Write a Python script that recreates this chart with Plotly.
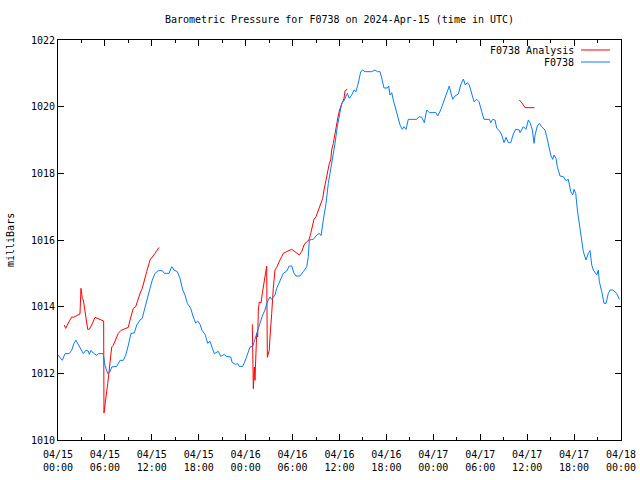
import plotly.graph_objects as go
from datetime import datetime, timedelta

START = datetime(2024, 4, 15)
X_TICK_HOURS = [0, 6, 12, 18, 24, 30, 36, 42, 48, 54, 60, 66, 72]
Y_TICKS = [1010, 1012, 1014, 1016, 1018, 1020, 1022]

# F0738 observed pressure (hours after 2024-04-15 00:00 UTC, mbar)
blue_hours = [0.0, 0.55, 0.90, 1.41, 1.75, 2.05, 2.30, 2.69, 3.03, 3.24, 3.54, 3.88, 4.00, 4.22, 4.51,
              4.95, 5.15, 5.79, 6.01, 6.36, 6.65, 6.87, 7.51, 7.93, 8.35, 8.66, 8.99, 9.34, 9.76, 10.07,
              10.49, 10.78, 11.04, 11.34, 11.77, 12.06, 12.41, 12.83, 13.34, 13.60, 14.20, 14.54, 14.84,
              15.26, 15.60, 15.95, 16.24, 16.54, 16.97, 17.30, 17.61, 17.87, 18.16, 18.42, 18.80, 19.15,
              19.44, 19.70, 19.99, 20.50, 20.81, 21.27, 21.49, 22.09, 22.26, 22.68, 22.98, 23.19, 23.62,
              23.92, 24.26, 24.56, 24.90, 25.19, 25.49, 25.83, 26.18, 26.47, 26.77, 27.11, 27.33, 27.75,
              27.97, 28.39, 28.81, 29.25, 29.58, 29.89, 30.18, 30.44, 30.95, 31.37, 31.81, 32.01, 32.14,
              32.65, 33.09, 33.42, 33.64, 33.93, 34.28, 34.57, 34.88, 35.13, 35.43, 35.72, 35.98, 36.28,
              36.58, 36.83, 37.00, 37.26, 37.56, 37.86, 38.11, 38.41, 38.71, 38.97, 39.26, 40.12, 40.54,
              40.84, 41.18, 41.40, 41.69, 42.12, 42.29, 42.46, 42.68, 42.88, 43.19, 43.45, 43.74, 44.03,
              44.25, 44.51, 44.80, 45.88, 46.17, 46.52, 46.85, 47.15, 47.49, 48.34, 48.56, 48.94, 49.28,
              49.58, 49.84, 50.04, 50.26, 50.48, 50.77, 51.20, 51.50, 51.84, 52.09, 52.35, 52.60, 52.91,
              53.20, 53.55, 53.84, 54.19, 54.48, 55.16, 55.34, 55.59, 55.89, 56.11, 56.44, 56.75, 57.04,
              57.30, 57.59, 57.90, 58.23, 58.54, 59.00, 59.09, 59.30, 59.51, 59.85, 60.15, 60.37, 60.66,
              60.88, 61.01, 61.30, 61.56, 61.86, 62.28, 62.50, 62.80, 63.01, 63.27, 63.44, 63.69, 63.86,
              64.20, 64.63, 64.97, 65.26, 65.57, 65.83, 65.99, 66.21, 66.42, 66.67, 66.89, 67.18, 67.53,
              67.82, 68.04, 68.26, 68.46, 68.90, 69.10, 69.23, 69.54, 69.83, 70.09, 70.38, 70.60, 70.94,
              71.45, 71.79]
blue_mbar = [1012.55, 1012.39, 1012.59, 1012.59, 1012.69, 1012.90, 1012.99, 1012.84, 1012.69, 1012.59,
             1012.69, 1012.67, 1012.57, 1012.69, 1012.61, 1012.54, 1012.59, 1012.59, 1012.24, 1011.99,
             1012.04, 1012.19, 1012.21, 1012.39, 1012.39, 1012.54, 1012.84, 1013.20, 1013.21, 1013.45,
             1013.60, 1013.65, 1013.90, 1014.14, 1014.55, 1014.80, 1015.00, 1015.08, 1015.08, 1015.00,
             1015.00, 1015.20, 1015.10, 1015.05, 1014.85, 1014.50, 1014.35, 1014.10, 1013.95, 1013.69,
             1013.51, 1013.57, 1013.47, 1013.29, 1013.17, 1012.90, 1012.96, 1012.78, 1012.59, 1012.66,
             1012.51, 1012.57, 1012.51, 1012.49, 1012.33, 1012.27, 1012.29, 1012.21, 1012.21, 1012.37,
             1012.63, 1012.79, 1012.81, 1013.05, 1013.24, 1013.50, 1013.75, 1013.90, 1014.14, 1014.29,
             1014.22, 1014.35, 1014.55, 1014.75, 1015.00, 1015.07, 1015.22, 1015.22, 1015.00, 1014.92,
             1014.92, 1015.05, 1015.20, 1015.50, 1016.00, 1016.02, 1016.15, 1016.20, 1016.13, 1016.60,
             1017.10, 1017.70, 1018.10, 1018.50, 1018.90, 1019.40, 1019.70, 1020.10, 1020.18, 1020.35,
             1020.40, 1020.25, 1020.35, 1020.50, 1020.45, 1020.71, 1021.05, 1021.10, 1021.05, 1021.05,
             1021.10, 1021.05, 1021.05, 1020.86, 1020.56, 1020.56, 1020.62, 1020.35, 1020.42, 1020.20,
             1019.95, 1019.70, 1019.45, 1019.32, 1019.40, 1019.32, 1019.62, 1019.62, 1019.70, 1019.68,
             1019.52, 1019.90, 1019.82, 1019.82, 1019.72, 1019.90, 1020.12, 1020.28, 1020.45, 1020.62,
             1020.40, 1020.22, 1020.32, 1020.38, 1020.65, 1020.83, 1020.65, 1020.72, 1020.65, 1020.40,
             1020.15, 1020.22, 1020.15, 1019.85, 1019.62, 1019.62, 1019.52, 1019.62, 1019.60, 1019.35,
             1019.28, 1019.15, 1018.92, 1019.08, 1018.92, 1018.92, 1019.18, 1019.32, 1019.30, 1019.22,
             1019.32, 1019.40, 1019.32, 1019.60, 1019.52, 1019.30, 1018.90, 1019.15, 1019.42, 1019.50,
             1019.40, 1019.30, 1019.10, 1018.75, 1018.55, 1018.42, 1018.55, 1018.45, 1018.20, 1017.92,
             1017.90, 1017.78, 1017.82, 1017.45, 1017.35, 1017.52, 1017.40, 1016.90, 1016.50, 1016.00,
             1015.65, 1015.40, 1015.60, 1015.68, 1015.25, 1015.10, 1014.95, 1015.10, 1014.75, 1014.45,
             1014.10, 1014.10, 1014.40, 1014.50, 1014.50, 1014.40, 1014.22]

# F0738 Analysis (None = gap)
red_hours = [0.81, 0.98, 1.32, 1.75, 1.96, 2.39, 2.81, 2.94, 3.11, 3.24, 3.45, 3.58, 3.80, 4.00, 4.31,
             4.73, 5.08, 5.59, 5.84, 5.88, 6.01, 6.14, 6.36, 6.52, 6.69, 6.87, 7.07, 7.38, 7.71, 8.06,
             8.57, 8.99, 9.21, 9.63, 9.94, 10.19, 10.49, 10.78, 11.04, 11.34, 11.77, 12.06, 12.41, 12.92,
             None,
             24.85, 24.98, 25.11, 25.19, 25.32, 25.41, 25.54, 25.62, 25.74, 25.96, 26.13, 26.35, 26.51,
             26.69, 26.77, 27.02, 27.11, 27.24, 27.33, 27.53, 27.75, 27.97, 28.17, 28.39, 28.61, 28.81,
             29.25, 29.89, 30.18, 30.44, 30.86, 31.17, 31.46, 31.81, 32.10, 32.32, 32.57, 32.74, 33.00,
             33.29, 33.60, 33.85, 34.02, 34.28, 34.49, 34.70, 34.88, 35.00, 35.21, 35.43, 35.64, 35.85,
             36.07, 36.28, 36.58, 36.71, 37.00,
             None,
             59.00, 59.30, 59.73, 60.92]
red_mbar = [1013.45, 1013.35, 1013.51, 1013.69, 1013.68, 1013.72, 1013.78, 1014.55, 1014.25, 1014.20,
            1013.84, 1013.59, 1013.32, 1013.32, 1013.45, 1013.68, 1013.65, 1013.60, 1013.57, 1010.81,
            1011.00, 1011.29, 1011.69, 1012.09, 1012.49, 1012.79, 1012.84, 1012.99, 1013.20, 1013.29,
            1013.35, 1013.38, 1013.60, 1013.95, 1014.00, 1014.20, 1014.40, 1014.55, 1014.80, 1015.05,
            1015.40, 1015.48, 1015.60, 1015.78,
            None,
            1013.47, 1011.54, 1012.19, 1011.79, 1012.64, 1013.20, 1013.09, 1013.90, 1014.14, 1014.11,
            1014.40, 1014.75, 1015.05, 1015.22, 1012.48, 1012.69, 1013.09, 1013.39, 1013.80, 1014.55,
            1015.10, 1015.18, 1015.30, 1015.40, 1015.50, 1015.60, 1015.65, 1015.72, 1015.67, 1015.62,
            1015.55, 1015.65, 1015.85, 1015.95, 1016.00, 1016.20, 1016.50, 1016.62, 1016.70, 1016.90,
            1017.12, 1017.25, 1017.50, 1017.80, 1018.10, 1018.30, 1018.40, 1018.70, 1018.90, 1019.20,
            1019.50, 1019.75, 1019.95, 1020.10, 1020.25, 1020.48, 1020.52,
            None,
            1020.20, 1020.12, 1019.97, 1019.97]

RED = "#ff0000"
BLUE = "#0a7bff"
FONT = "DejaVu Sans Mono"


def to_time(hours):
    return [START + timedelta(hours=h) if h is not None else None for h in hours]


fig = go.Figure()
fig.add_trace(go.Scatter(x=to_time(red_hours), y=red_mbar, mode="lines", name="F0738 Analysis",
                         line=dict(color=RED, width=1), connectgaps=False))
fig.add_trace(go.Scatter(x=to_time(blue_hours), y=blue_mbar, mode="lines", name="F0738",
                         line=dict(color=BLUE, width=1)))

axis_common = dict(showline=True, linecolor="black", linewidth=1, mirror="allticks",
                   ticks="inside", ticklen=6, tickcolor="black", showgrid=False, zeroline=False,
                   automargin=False,
                   tickfont=dict(family=FONT, size=10, color="black"))

tick_times = to_time(X_TICK_HOURS)
fig.update_layout(
    width=640, height=480,
    margin=dict(l=58, r=19, t=40, b=40, autoexpand=False),
    paper_bgcolor="white", plot_bgcolor="white",
    showlegend=False,
    font=dict(family=FONT, size=10, color="black"),
    title=dict(text="Barometric Pressure for F0738 on 2024-Apr-15 (time in UTC)",
               x=0.5, xref="paper", y=1 - 19 / 480, yref="container", yanchor="middle",
               xanchor="center", font=dict(family=FONT, size=10, color="black")),
    xaxis=dict(type="date", range=[tick_times[0], tick_times[-1]],
               tickvals=tick_times,
               ticktext=[t.strftime("%m/%d<br>%H:%M") for t in tick_times],
               ticklabelstandoff=5,
               minor=dict(dtick=3 * 3600 * 1000, ticks="inside", ticklen=3, tickcolor="black"),
               **axis_common),
    yaxis=dict(range=[Y_TICKS[0], Y_TICKS[-1]], tickvals=Y_TICKS, **axis_common),
)

fig.add_annotation(text="milliBars", xref="paper", yref="paper", x=(10 - 58) / 563, y=0.5,
                   textangle=-90, showarrow=False, xanchor="center", yanchor="middle",
                   font=dict(family=FONT, size=10, color="black"))

legend_items = [("F0738 Analysis", RED, 50), ("F0738", BLUE, 62)]
for label, color, ypx in legend_items:
    yp = (440 - ypx) / 400
    fig.add_annotation(text=label, xref="paper", yref="paper", x=(576 - 58) / 563, y=yp,
                       xanchor="right", yanchor="middle", showarrow=False,
                       font=dict(family=FONT, size=10, color="black"))
    fig.add_shape(type="line", xref="paper", yref="paper",
                  x0=(581 - 58) / 563, x1=(610 - 58) / 563, y0=yp, y1=yp,
                  line=dict(color=color, width=1))

fig.write_html("out.html", config={"displayModeBar": False},
               post_script="document.body.style.margin='0';")
